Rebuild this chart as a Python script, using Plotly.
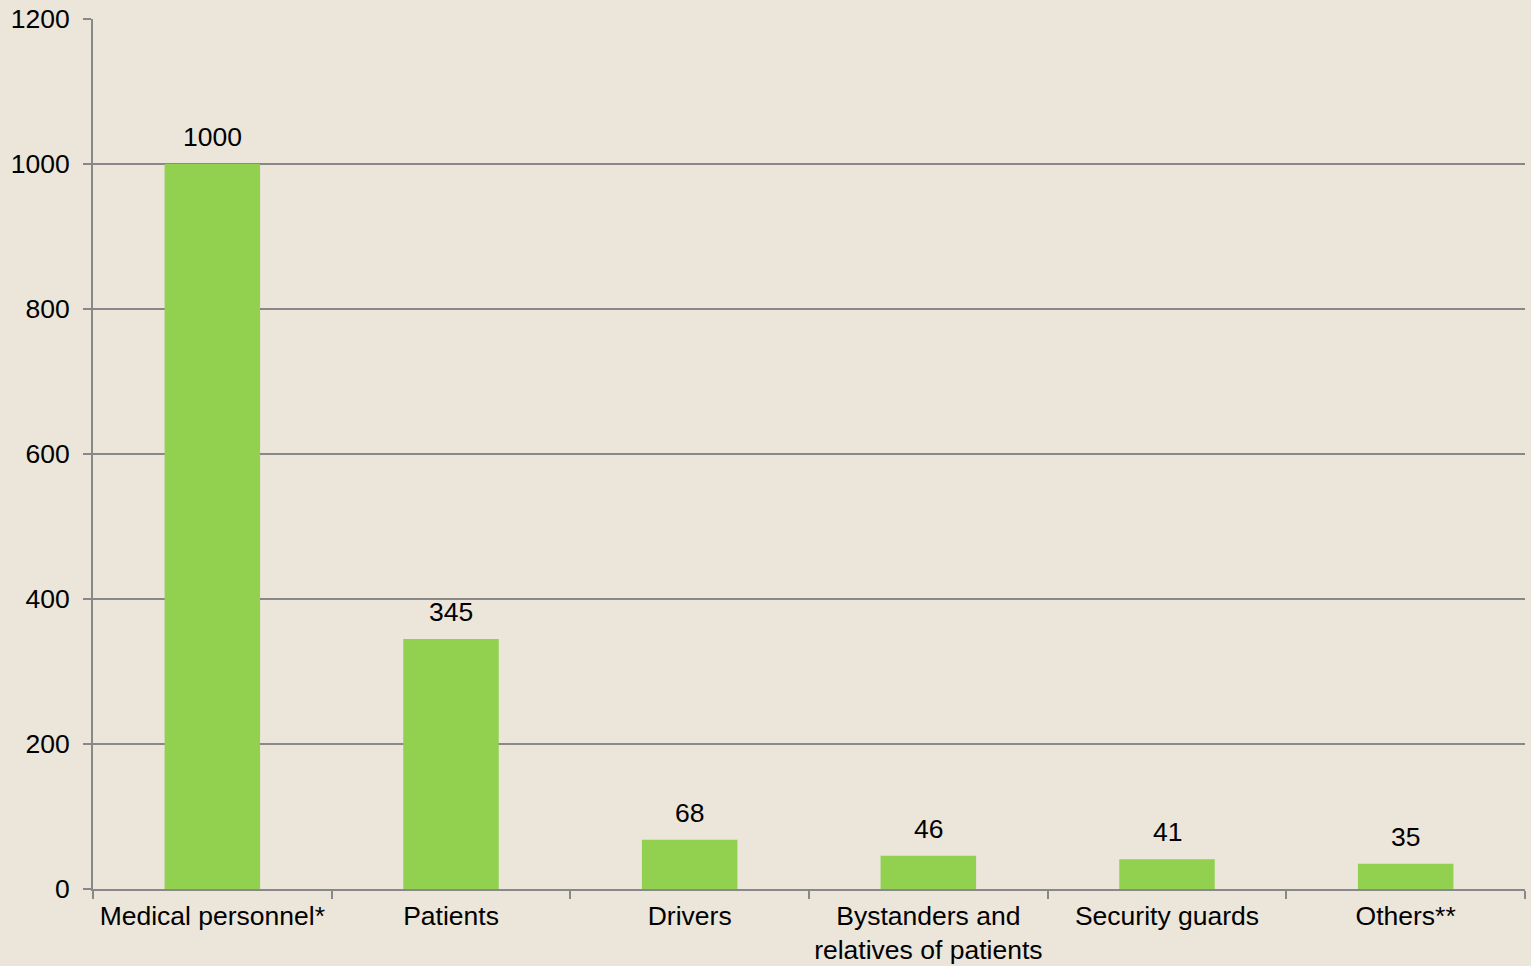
import plotly.graph_objects as go

categories = ["Medical personnel*", "Patients", "Drivers",
              "Bystanders and<br>relatives of patients", "Security guards", "Others**"]
values = [1000, 345, 68, 46, 41, 35]
y_ticks = [0, 200, 400, 600, 800, 1000, 1200]

BG = "#EBE5DA"
GRID = "#888888"
FONT = "Liberation Sans, Arial, sans-serif"
FS = 26.5

fig = go.Figure(go.Bar(
    x=categories, y=values,
    marker=dict(color="#92D050", line=dict(width=0)),
    width=0.4,
))

for c, v in zip(categories, values):
    fig.add_annotation(x=c, y=v, text=str(v), showarrow=False,
                       yanchor="bottom", yshift=10,
                       font=dict(family=FONT, size=FS, color="#000000"))

fig.update_layout(
    width=1531, height=966,
    paper_bgcolor=BG, plot_bgcolor=BG,
    margin=dict(l=93, r=6, t=19, b=77),
    font=dict(family=FONT, size=FS, color="#000000"),
    showlegend=False,
)
fig.update_xaxes(
    type="category", tickson="boundaries", automargin=False,
    showline=True, linecolor=GRID, linewidth=2,
    ticks="outside", ticklen=8, tickcolor=GRID, tickwidth=2,
    showgrid=False, tickfont=dict(size=FS), ticklabelstandoff=2,
)
fig.update_yaxes(
    range=[0, 1200], tickvals=y_ticks, automargin=False,
    showline=True, linecolor=GRID, linewidth=2,
    ticks="outside", ticklen=8, tickcolor=GRID, tickwidth=2,
    showgrid=True, gridcolor=GRID, gridwidth=1.5,
    zeroline=False, ticklabelstandoff=8,
    tickfont=dict(size=FS),
)
fig.write_html("out.html")
